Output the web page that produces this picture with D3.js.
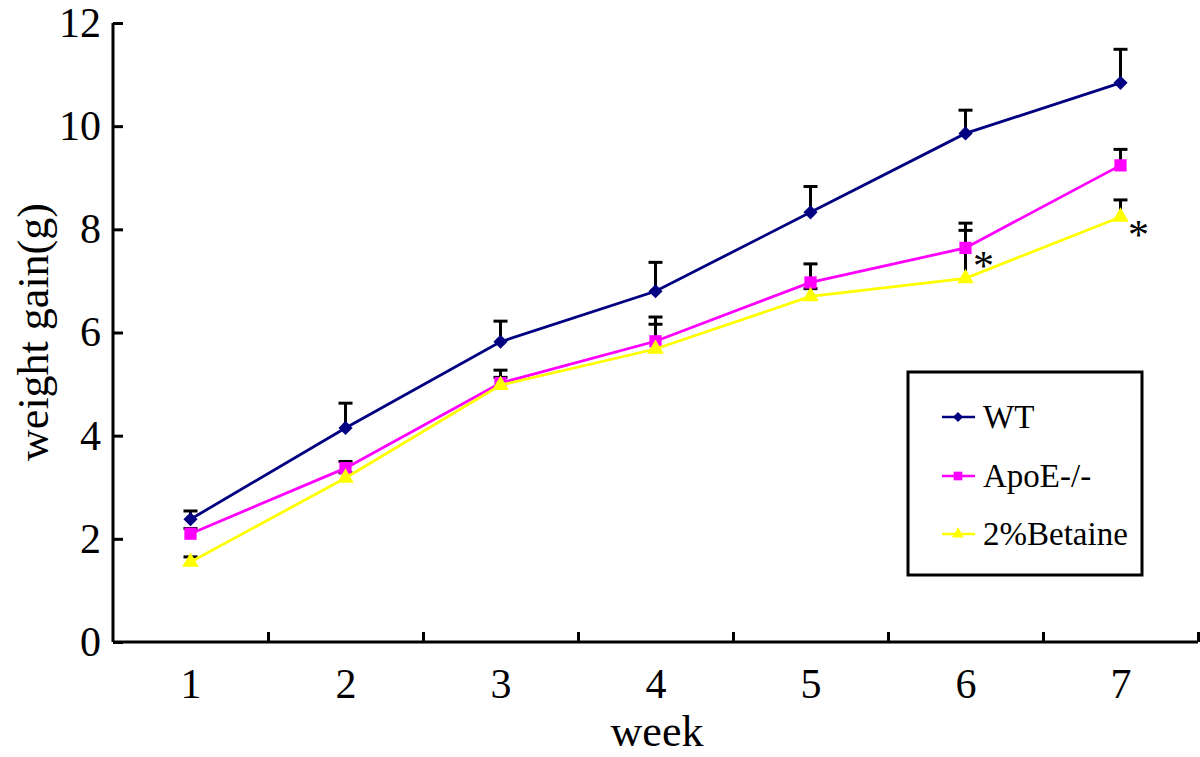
<!DOCTYPE html>
<html>
<head>
<meta charset="utf-8">
<script src="https://cdn.jsdelivr.net/npm/d3@7"></script>
<style>
  body { margin: 0; background: #fff; }
  svg { display: block; font-family: "Liberation Serif", "Times New Roman", serif; }
</style>
</head>
<body>
<div id="chart"></div>
<script>
// Data
const weeks = [1, 2, 3, 4, 5, 6, 7];
const wtMean = [2.38, 4.15, 5.82, 6.80, 8.33, 9.86, 10.84];
const wtErr = [0.16, 0.48, 0.40, 0.56, 0.50, 0.45, 0.65];
const apoMean = [2.10, 3.37, 5.02, 5.83, 6.97, 7.64, 9.24];
const apoErr = [0.10, 0.13, 0.25, 0.47, 0.36, 0.48, 0.31];
const betMean = [1.55, 3.18, 4.98, 5.68, 6.70, 7.05, 8.24];
const betErr = [0.10, 0.10, 0.15, 0.48, 0.15, 0.93, 0.33];
const seriesNames = ["WT", "ApoE-/-", "2%Betaine"];
const yTicks = [0, 2, 4, 6, 8, 10, 12];

const series = [
  { name: seriesNames[0], mean: wtMean, err: wtErr, color: "#000080", symbol: d3.symbolSquare, size: 100, rot: 45 },
  { name: seriesNames[1], mean: apoMean, err: apoErr, color: "#ff00ff", symbol: d3.symbolSquare, size: 150, rot: 0 },
  { name: seriesNames[2], mean: betMean, err: betErr, color: "#ffff00", symbol: d3.symbolTriangle, size: 120, rot: 0 }
];

const W = 1200, H = 757;
const svg = d3.select("#chart").append("svg")
  .attr("width", W).attr("height", H);

const x = d3.scaleLinear().domain([0.5, 7.5]).range([113, 1198]);
const y = d3.scaleLinear().domain([0, 12]).range([642, 23]);

// Error bars (upper only), behind the lines
series.forEach(s => {
  const g = svg.append("g");
  weeks.forEach((w, i) => {
    const top = y(s.mean[i] + s.err[i]);
    g.append("line")
      .attr("x1", x(w)).attr("x2", x(w))
      .attr("y1", y(s.mean[i])).attr("y2", top)
      .attr("stroke", "#000").attr("stroke-width", 3);
    g.append("line")
      .attr("x1", x(w) - 7).attr("x2", x(w) + 7)
      .attr("y1", top).attr("y2", top)
      .attr("stroke", "#000").attr("stroke-width", 3);
  });
});

// Lines and markers
const line = d3.line().x((d, i) => x(weeks[i])).y(d => y(d));
series.forEach(s => {
  svg.append("path")
    .datum(s.mean)
    .attr("d", line)
    .attr("fill", "none")
    .attr("stroke", s.color)
    .attr("stroke-width", 2.8);
  svg.selectAll(null)
    .data(s.mean)
    .join("path")
    .attr("d", d3.symbol().type(s.symbol).size(s.size))
    .attr("transform", (d, i) => `translate(${x(weeks[i])},${y(d)}) rotate(${s.rot})`)
    .attr("fill", s.color);
});

// Significance marks
const starWeeks = [6, 7];
const starVals = [apoMean[5], betMean[6]];
svg.selectAll(".star")
  .data(starWeeks)
  .join("text")
  .attr("class", "star")
  .attr("x", d => x(d) + 18)
  .attr("y", (d, i) => y(starVals[i]) + 32)
  .attr("text-anchor", "middle")
  .attr("font-size", 42)
  .text("*");

// Y axis
svg.append("g")
  .attr("transform", `translate(${x(0.5)},0)`)
  .call(d3.axisLeft(y).tickValues(yTicks).tickSize(-10).tickPadding(12))
  .call(g => g.selectAll("line, path").attr("stroke", "#000").attr("stroke-width", 3))
  .call(g => g.select(".domain").attr("d", `M0,${y(12)}V${y(0)}`))
  .call(g => g.selectAll("text").attr("font-size", 42).attr("font-family", "Liberation Serif").attr("fill", "#000"));

// X axis: tick marks between weeks, labels at weeks
svg.append("g")
  .attr("transform", `translate(0,${y(0)})`)
  .call(d3.axisBottom(x).tickValues([1.5, 2.5, 3.5, 4.5, 5.5, 6.5, 7.5]).tickSize(-10).tickFormat(""))
  .call(g => g.selectAll("line, path").attr("stroke", "#000").attr("stroke-width", 3))
  .call(g => g.select(".domain").attr("d", `M${x(0.5)},0H${x(7.5)}`));

svg.append("g")
  .attr("transform", `translate(0,${y(0)})`)
  .call(d3.axisBottom(x).tickValues(weeks).tickFormat(d3.format("d")).tickSize(0).tickPadding(26))
  .call(g => g.select(".domain").remove())
  .call(g => g.selectAll("text").attr("font-size", 42).attr("font-family", "Liberation Serif").attr("fill", "#000"));

// Axis titles
svg.append("text")
  .attr("x", 657).attr("y", 746)
  .attr("text-anchor", "middle")
  .attr("font-size", 44)
  .text("week");

svg.append("text")
  .attr("transform", "translate(48,332) rotate(-90)")
  .attr("text-anchor", "middle")
  .attr("font-size", 44)
  .text("weight gain(g)");

// Legend
const legend = svg.append("g");
legend.append("rect")
  .attr("x", 908).attr("y", 372)
  .attr("width", 234).attr("height", 203)
  .attr("fill", "#fff").attr("stroke", "#000").attr("stroke-width", 3);
const rowY = [417, 476, 534];
series.forEach((s, i) => {
  legend.append("line")
    .attr("x1", 942).attr("x2", 975)
    .attr("y1", rowY[i]).attr("y2", rowY[i])
    .attr("stroke", s.color).attr("stroke-width", 2.5);
  legend.append("path")
    .attr("d", d3.symbol().type(s.symbol).size(s.size * 0.5))
    .attr("transform", `translate(958,${rowY[i]}) rotate(${s.rot})`)
    .attr("fill", s.color);
  legend.append("text")
    .attr("x", 983).attr("y", rowY[i] + 11)
    .attr("font-size", 33)
    .text(s.name);
});
</script>
</body>
</html>
